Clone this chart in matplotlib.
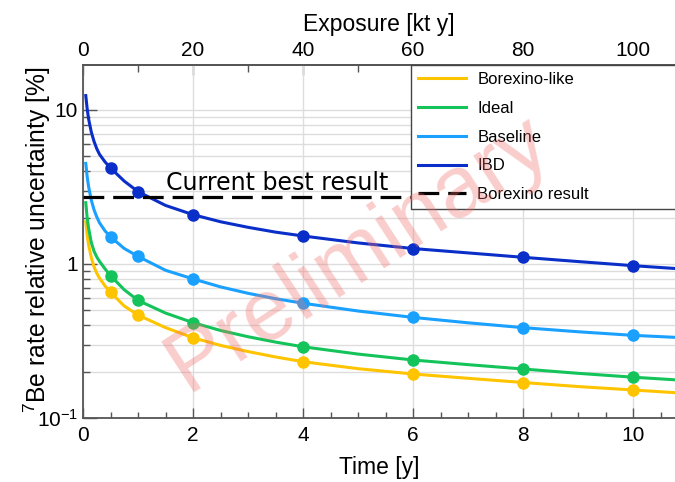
import numpy as np
import matplotlib
matplotlib.use("Agg")
import matplotlib.pyplot as plt
from matplotlib.ticker import MultipleLocator, LogLocator, NullFormatter

plt.rcParams['font.family'] = ['Liberation Sans', 'DejaVu Sans']
plt.rcParams['mathtext.fontset'] = 'custom'
plt.rcParams['mathtext.rm'] = 'Liberation Sans'
plt.rcParams['mathtext.it'] = 'Liberation Sans:italic'

# simulated points (time in years)
marker_t = [0.5, 1, 2, 4, 6, 8, 10]
borexino_like_pts = [0.655, 0.466, 0.332, 0.232, 0.193, 0.17, 0.152]
ideal_pts = [0.84, 0.58, 0.416, 0.29, 0.238, 0.208, 0.184]
baseline_pts = [1.50, 1.12, 0.80, 0.556, 0.45, 0.386, 0.344]
ibd_pts = [4.2, 2.95, 2.09, 1.52, 1.26, 1.105, 0.975]

# fitted curves
curve_t = [0.05, 0.075, 0.1, 0.15, 0.2, 0.25, 0.3, 0.4, 0.5, 0.75, 1, 1.5, 2,
           2.5, 3, 3.5, 4, 5, 6, 7, 8, 9, 10, 10.76]
borexino_like_fit = [1.88, 1.55, 1.34, 1.1, 0.96, 0.87, 0.81, 0.72, 0.655, 0.533, 0.466,
                     0.386, 0.332, 0.296, 0.27, 0.249, 0.232, 0.209, 0.193, 0.181,
                     0.17, 0.16, 0.152, 0.146]
ideal_fit = [2.5, 2.0, 1.72, 1.38, 1.21, 1.11, 1.04, 0.93, 0.84, 0.68, 0.58,
             0.48, 0.416, 0.37, 0.337, 0.311, 0.29, 0.26, 0.238, 0.222,
             0.208, 0.195, 0.184, 0.177]
baseline_fit = [4.5, 3.7, 3.2, 2.6, 2.25, 2.02, 1.85, 1.64, 1.50, 1.26, 1.12,
                0.91, 0.80, 0.71, 0.645, 0.595, 0.556, 0.495, 0.45, 0.415,
                0.386, 0.363, 0.344, 0.334]
ibd_fit = [12.4, 10.2, 8.8, 7.2, 6.25, 5.6, 5.15, 4.6, 4.2, 3.45, 2.95,
           2.4, 2.09, 1.88, 1.73, 1.61, 1.52, 1.37, 1.26, 1.18,
           1.105, 1.037, 0.975, 0.935]

borexino_result = 2.72
labels = ['Borexino-like', 'Ideal', 'Baseline', 'IBD']
colors = ['#FFC400', '#14C45A', '#1AA0FF', '#0A2EC8']
exposure_ticks = [0, 20, 40, 60, 80, 100]

fig = plt.figure(figsize=(6.75, 4.82), dpi=100)
ax = fig.add_axes([0.123, 0.1328, 0.877, 0.7324])

series = [(borexino_like_fit, borexino_like_pts), (ideal_fit, ideal_pts),
          (baseline_fit, baseline_pts), (ibd_fit, ibd_pts)]
for (fit, pts), lab, col in zip(series, labels, colors):
    ax.plot(curve_t, fit, color=col, lw=2.2, label=lab, zorder=3)
    ax.plot(marker_t, pts, 'o', color=col, ms=8, zorder=4)

ax.axhline(borexino_result, color='black', lw=2.3, dashes=(6.5, 2.8),
           label='Borexino result', zorder=3)
ax.text(1.5, borexino_result * 1.03, 'Current best result', fontsize=17,
        family='DejaVu Sans', va='bottom', ha='left', zorder=5)

ax.set_yscale('log')
ax.set_xlim(0, 10.76)
ax.set_ylim(0.1, 19.6)
ax.set_yticks([0.1, 1, 10], [r'$\mathregular{10^{-1}}$', '1', '10'])
ax.yaxis.set_minor_locator(LogLocator(base=10, subs=np.arange(2, 10)))
ax.yaxis.set_minor_formatter(NullFormatter())
ax.xaxis.set_major_locator(MultipleLocator(2))
ax.xaxis.set_minor_locator(MultipleLocator(0.5))

ax.grid(True, which='major', axis='x', color='#dddddd', lw=1, zorder=0)
ax.grid(True, which='both', axis='y', color='#dddddd', lw=1, zorder=0)
ax.set_axisbelow(True)

for sp in ax.spines.values():
    sp.set_color('#555555')
    sp.set_linewidth(1.3)
ax.spines['right'].set_visible(False)

ax.tick_params(axis='both', which='both', direction='in', colors='#555555',
               labelcolor='black', labelsize=15)
ax.tick_params(axis='y', which='major', length=10, width=1)
ax.tick_params(axis='y', which='minor', length=5, width=1)
ax.tick_params(axis='x', which='major', length=7, width=1, pad=6)
ax.tick_params(axis='x', which='minor', length=4, width=1)
ax.tick_params(top=False, right=False, which='both')

ax.set_xlabel('Time [y]', fontsize=16.5, labelpad=8)
ax.set_ylabel(r'$\mathregular{^{7}}$Be rate relative uncertainty [%]', fontsize=17.7)
ax.yaxis.set_label_coords(-0.05, 0.505)

top = ax.secondary_xaxis('top', functions=(lambda t: t * 10, lambda e: e / 10))
top.set_xticks(exposure_ticks)
top.xaxis.set_minor_locator(MultipleLocator(10))
top.tick_params(which='both', direction='in', colors='#555555', labelcolor='black',
                labelsize=15)
top.tick_params(which='major', length=7, width=1)
top.tick_params(which='minor', length=5, width=1)
top.spines['top'].set_color('#555555')
top.spines['top'].set_linewidth(1.3)
top.set_xlabel('Exposure [kt y]', fontsize=16.5, labelpad=7)

leg = ax.legend(loc='upper left', bbox_to_anchor=(0.554, 0.0, 0.47, 1.0), mode='expand',
                borderaxespad=0, fontsize=12, frameon=True, fancybox=False,
                framealpha=1, edgecolor='#444444', handlelength=2.9,
                handletextpad=0.65, labelspacing=0.83, borderpad=0.42)
leg.get_frame().set_linewidth(1.0)
leg.set_zorder(6)

# watermark on top of everything
ax.text(0.465, 0.465, 'Preliminary', transform=ax.transAxes, fontsize=63,
        color='#F0706A', alpha=0.35, rotation=33, ha='center', va='center',
        rotation_mode='anchor', zorder=10)

fig.savefig('out.png', dpi=100)
